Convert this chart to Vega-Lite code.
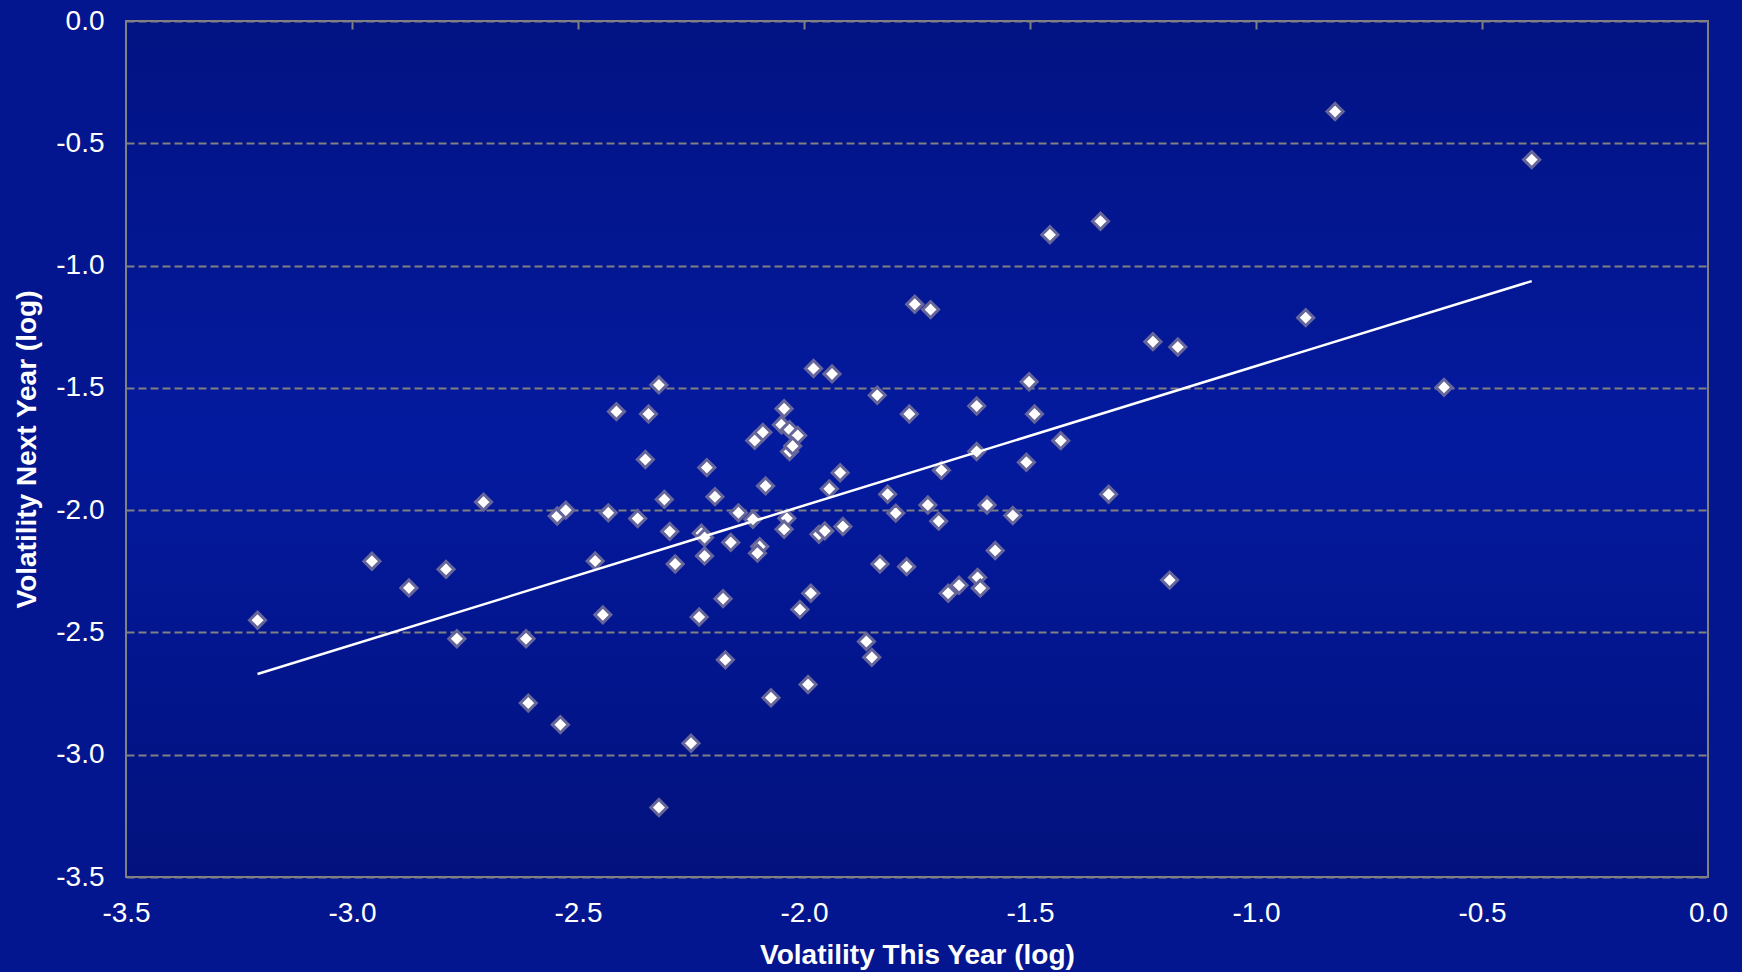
{
  "$schema": "https://vega.github.io/schema/vega-lite/v6.json",
  "autosize": "none",
  "width": 1582,
  "height": 856,
  "padding": {"left": 126, "top": 21, "right": 34, "bottom": 95},
  "background": "#03168f",
  "view": {
    "stroke": "#808080",
    "strokeWidth": 2,
    "fill": {
      "gradient": "linear",
      "x1": 0, "y1": 0, "x2": 0, "y2": 1,
      "stops": [
        {"offset": 0, "color": "#021383"},
        {"offset": 0.5, "color": "#041a9f"},
        {"offset": 1, "color": "#02117c"}
      ]
    }
  },
  "config": {
    "font": "Liberation Sans",
    "axis": {
      "labelFont": "Liberation Sans",
      "titleFont": "Liberation Sans",
      "labelColor": "#ffffff",
      "titleColor": "#ffffff",
      "labelFontSize": 28,
      "titleFontSize": 28,
      "titleFontWeight": "bold"
    }
  },
  "data": {
    "values": [
      {"vx": -3.209, "vy": -2.450}, {"vx": -2.956, "vy": -2.209}, {"vx": -2.874, "vy": -2.318},
      {"vx": -2.792, "vy": -2.242}, {"vx": -2.709, "vy": -1.967}, {"vx": -2.768, "vy": -2.526},
      {"vx": -2.615, "vy": -2.526}, {"vx": -2.610, "vy": -2.789}, {"vx": -2.539, "vy": -2.877},
      {"vx": -2.546, "vy": -2.024}, {"vx": -2.527, "vy": -2.000}, {"vx": -2.462, "vy": -2.208},
      {"vx": -2.445, "vy": -2.428}, {"vx": -2.433, "vy": -2.011}, {"vx": -2.415, "vy": -1.597},
      {"vx": -2.344, "vy": -1.607}, {"vx": -2.321, "vy": -1.488}, {"vx": -2.351, "vy": -1.793},
      {"vx": -2.368, "vy": -2.034}, {"vx": -2.309, "vy": -1.956}, {"vx": -2.297, "vy": -2.087},
      {"vx": -2.285, "vy": -2.220}, {"vx": -2.215, "vy": -1.826}, {"vx": -2.197, "vy": -1.945},
      {"vx": -2.227, "vy": -2.094}, {"vx": -2.220, "vy": -2.112}, {"vx": -2.220, "vy": -2.187},
      {"vx": -2.162, "vy": -2.132}, {"vx": -2.145, "vy": -2.011}, {"vx": -2.179, "vy": -2.362},
      {"vx": -2.232, "vy": -2.437}, {"vx": -2.174, "vy": -2.612}, {"vx": -2.250, "vy": -2.953},
      {"vx": -2.321, "vy": -3.216}, {"vx": -2.109, "vy": -1.715}, {"vx": -2.091, "vy": -1.682},
      {"vx": -2.044, "vy": -1.585}, {"vx": -2.050, "vy": -1.651}, {"vx": -2.032, "vy": -1.671},
      {"vx": -2.014, "vy": -1.695}, {"vx": -2.032, "vy": -1.760}, {"vx": -2.025, "vy": -1.738},
      {"vx": -1.979, "vy": -1.421}, {"vx": -1.938, "vy": -1.443}, {"vx": -2.085, "vy": -1.901},
      {"vx": -2.113, "vy": -2.037}, {"vx": -2.038, "vy": -2.033}, {"vx": -2.044, "vy": -2.078},
      {"vx": -2.098, "vy": -2.149}, {"vx": -2.103, "vy": -2.176}, {"vx": -1.967, "vy": -2.099},
      {"vx": -1.954, "vy": -2.085}, {"vx": -1.914, "vy": -2.067}, {"vx": -1.944, "vy": -1.913},
      {"vx": -1.920, "vy": -1.847}, {"vx": -1.985, "vy": -2.340}, {"vx": -2.009, "vy": -2.406},
      {"vx": -2.073, "vy": -2.767}, {"vx": -1.991, "vy": -2.713}, {"vx": -1.838, "vy": -1.530},
      {"vx": -1.767, "vy": -1.607}, {"vx": -1.815, "vy": -1.935}, {"vx": -1.797, "vy": -2.012},
      {"vx": -1.832, "vy": -2.220}, {"vx": -1.773, "vy": -2.231}, {"vx": -1.862, "vy": -2.537},
      {"vx": -1.850, "vy": -2.602}, {"vx": -1.726, "vy": -1.979}, {"vx": -1.702, "vy": -2.045},
      {"vx": -1.696, "vy": -1.837}, {"vx": -1.618, "vy": -1.574}, {"vx": -1.618, "vy": -1.760},
      {"vx": -1.595, "vy": -1.979}, {"vx": -1.577, "vy": -2.165}, {"vx": -1.616, "vy": -2.275},
      {"vx": -1.610, "vy": -2.319}, {"vx": -1.657, "vy": -2.307}, {"vx": -1.681, "vy": -2.340},
      {"vx": -1.538, "vy": -2.022}, {"vx": -1.502, "vy": -1.475}, {"vx": -1.490, "vy": -1.607},
      {"vx": -1.432, "vy": -1.716}, {"vx": -1.508, "vy": -1.804}, {"vx": -1.326, "vy": -1.935},
      {"vx": -1.228, "vy": -1.311}, {"vx": -1.173, "vy": -1.333}, {"vx": -1.191, "vy": -2.286},
      {"vx": -1.755, "vy": -1.158}, {"vx": -1.720, "vy": -1.180}, {"vx": -1.456, "vy": -0.874},
      {"vx": -1.344, "vy": -0.819}, {"vx": -0.825, "vy": -0.370}, {"vx": -0.390, "vy": -0.567},
      {"vx": -0.890, "vy": -1.213}, {"vx": -0.584, "vy": -1.498}
    ]
  },
  "resolve": {"axis": {"x": "independent", "y": "independent"}},
  "layer": [
    {
      "mark": {"type": "point", "shape": "diamond", "filled": true, "fill": "#ffffff", "stroke": "#66669a", "strokeWidth": 3, "size": 260, "opacity": 1},
      "encoding": {
        "x": {
          "field": "vx", "type": "quantitative",
          "scale": {"domain": [-3.5, 0], "nice": false, "zero": false},
          "axis": {
            "orient": "bottom",
            "title": "Volatility This Year (log)",
            "values": [-3.5, -3.0, -2.5, -2.0, -1.5, -1.0, -0.5, 0.0],
            "labelExpr": "replace(format(datum.value, '.1f'), '\u2212', '-')",
            "ticks": false,
            "grid": false,
            "domain": false,
            "labelPadding": 22,
            "labelFlush": false,
            "labelOverlap": false,
            "titlePadding": 14
          }
        },
        "y": {
          "field": "vy", "type": "quantitative",
          "scale": {"domain": [-3.5, 0], "nice": false, "zero": false},
          "axis": {
            "orient": "left",
            "title": "Volatility Next Year (log)",
            "values": [-3.5, -3.0, -2.5, -2.0, -1.5, -1.0, -0.5, 0.0],
            "labelExpr": "replace(format(datum.value, '.1f'), '\u2212', '-')",
            "ticks": false,
            "domain": false,
            "grid": true,
            "gridColor": "#808080",
            "gridWidth": 2,
            "gridDash": [8, 4],
            "gridOpacity": 1,
            "labelPadding": 22,
            "labelFlush": false,
            "labelOverlap": false,
            "titlePadding": 14
          }
        }
      }
    },
    {
      "mark": {"type": "line", "color": "#ffffff", "strokeWidth": 2.5},
      "transform": [{"regression": "vy", "on": "vx"}],
      "encoding": {
        "x": {
          "field": "vx", "type": "quantitative",
          "scale": {"domain": [-3.5, 0], "nice": false, "zero": false},
          "axis": {
            "orient": "top",
            "title": null,
            "values": [-3.0, -2.5, -2.0, -1.5, -1.0, -0.5],
            "labels": false,
            "domain": false,
            "grid": false,
            "ticks": true,
            "tickSize": -8,
            "tickWidth": 2,
            "tickColor": "#808080"
          }
        },
        "y": {
          "field": "vy", "type": "quantitative",
          "scale": {"domain": [-3.5, 0], "nice": false, "zero": false},
          "axis": null
        }
      }
    }
  ]
}
